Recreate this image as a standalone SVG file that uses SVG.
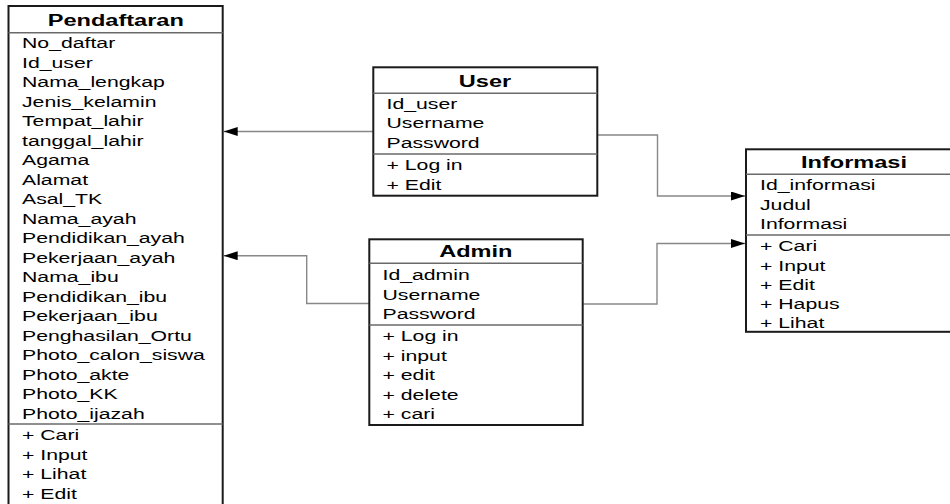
<svg xmlns="http://www.w3.org/2000/svg" width="950" height="504" viewBox="0 0 950 504">
<style>
.box{fill:#fff;stroke:#1a1a1a;stroke-width:2}
.sep{stroke:#6a6a6a;stroke-width:1.6;fill:none}
.con{stroke:#888;stroke-width:1.4;fill:none}
text{font-family:"Liberation Sans",Arial,sans-serif;fill:#000}
.a{font-size:15.5px}
.t{font-size:17.2px;font-weight:bold;text-anchor:middle}
</style>
<defs>
<marker id="arr" markerUnits="userSpaceOnUse" markerWidth="15" markerHeight="10" refX="14" refY="4.5" orient="auto">
<path d="M0,0 L14,4.5 L0,9 Z" fill="#000"/>
</marker>
</defs>
<g id="connectors">
<path class="con" d="M373.3,131.5 H223.7" marker-end="url(#arr)"/>
<path class="con" d="M597.3,135 H657.5 V196 H745" marker-end="url(#arr)"/>
<path class="con" d="M369.3,303.5 H306.7 V255.7 H223.7" marker-end="url(#arr)"/>
<path class="con" d="M583.3,304 H657 V243.5 H745" marker-end="url(#arr)"/>
</g>
<g id="pendaftaran">
<rect class="box" x="8.5" y="6" width="214.2" height="510"/>
<line class="sep" x1="8.5" y1="32.7" x2="222.7" y2="32.7"/>
<line class="sep" x1="8.5" y1="424" x2="222.7" y2="424"/>
<g transform="translate(115.8,0) scale(1.37,1)"><text class="t" x="0" y="26.3">Pendaftaran</text></g>
<g transform="translate(22,0) scale(1.37,1)">
<text class="a" x="0" y="48.3">No_daftar</text>
<text class="a" x="0" y="67.8">Id_user</text>
<text class="a" x="0" y="87.3">Nama_lengkap</text>
<text class="a" x="0" y="106.8">Jenis_kelamin</text>
<text class="a" x="0" y="126.3">Tempat_lahir</text>
<text class="a" x="0" y="145.8">tanggal_lahir</text>
<text class="a" x="0" y="165.3">Agama</text>
<text class="a" x="0" y="184.8">Alamat</text>
<text class="a" x="0" y="204.3">Asal_TK</text>
<text class="a" x="0" y="223.8">Nama_ayah</text>
<text class="a" x="0" y="243.3">Pendidikan_ayah</text>
<text class="a" x="0" y="262.8">Pekerjaan_ayah</text>
<text class="a" x="0" y="282.3">Nama_ibu</text>
<text class="a" x="0" y="301.8">Pendidikan_ibu</text>
<text class="a" x="0" y="321.3">Pekerjaan_ibu</text>
<text class="a" x="0" y="340.8">Penghasilan_Ortu</text>
<text class="a" x="0" y="360.3">Photo_calon_siswa</text>
<text class="a" x="0" y="379.8">Photo_akte</text>
<text class="a" x="0" y="399.3">Photo_KK</text>
<text class="a" x="0" y="418.8">Photo_ijazah</text>
<text class="a" x="0" y="440.5">+ Cari</text>
<text class="a" x="0" y="460">+ Input</text>
<text class="a" x="0" y="479.5">+ Lihat</text>
<text class="a" x="0" y="499">+ Edit</text>
</g>
</g>
<g id="user">
<rect class="box" x="373.3" y="67.3" width="224" height="128.4"/>
<line class="sep" x1="373.3" y1="93.3" x2="597.3" y2="93.3"/>
<line class="sep" x1="373.3" y1="154" x2="597.3" y2="154"/>
<g transform="translate(485,0) scale(1.37,1)"><text class="t" x="0" y="86.7">User</text></g>
<g transform="translate(386.5,0) scale(1.37,1)">
<text class="a" x="0" y="109">Id_user</text>
<text class="a" x="0" y="128.5">Username</text>
<text class="a" x="0" y="148">Password</text>
<text class="a" x="0" y="170.5">+ Log in</text>
<text class="a" x="0" y="190">+ Edit</text>
</g>
</g>
<g id="admin">
<rect class="box" x="369.3" y="239.3" width="213.4" height="185.7"/>
<line class="sep" x1="369.3" y1="263.3" x2="582.7" y2="263.3"/>
<line class="sep" x1="369.3" y1="325" x2="582.7" y2="325"/>
<g transform="translate(475.8,0) scale(1.37,1)"><text class="t" x="0" y="257.3">Admin</text></g>
<g transform="translate(382.5,0) scale(1.37,1)">
<text class="a" x="0" y="280.5">Id_admin</text>
<text class="a" x="0" y="299.9">Username</text>
<text class="a" x="0" y="319.3">Password</text>
<text class="a" x="0" y="341.5">+ Log in</text>
<text class="a" x="0" y="361">+ input</text>
<text class="a" x="0" y="380.4">+ edit</text>
<text class="a" x="0" y="399.8">+ delete</text>
<text class="a" x="0" y="419.3">+ cari</text>
</g>
</g>
<g id="informasi">
<rect class="box" x="746" y="149.3" width="210" height="182.5"/>
<line class="sep" x1="746" y1="174.3" x2="956" y2="174.3"/>
<line class="sep" x1="746" y1="235" x2="956" y2="235"/>
<g transform="translate(854,0) scale(1.37,1)"><text class="t" x="0" y="167.7">Informasi</text></g>
<g transform="translate(760,0) scale(1.37,1)">
<text class="a" x="0" y="190.5">Id_informasi</text>
<text class="a" x="0" y="210">Judul</text>
<text class="a" x="0" y="229.5">Informasi</text>
<text class="a" x="0" y="251.5">+ Cari</text>
<text class="a" x="0" y="270.8">+ Input</text>
<text class="a" x="0" y="290">+ Edit</text>
<text class="a" x="0" y="309.5">+ Hapus</text>
<text class="a" x="0" y="328.5">+ Lihat</text>
</g>
</g>
</svg>
